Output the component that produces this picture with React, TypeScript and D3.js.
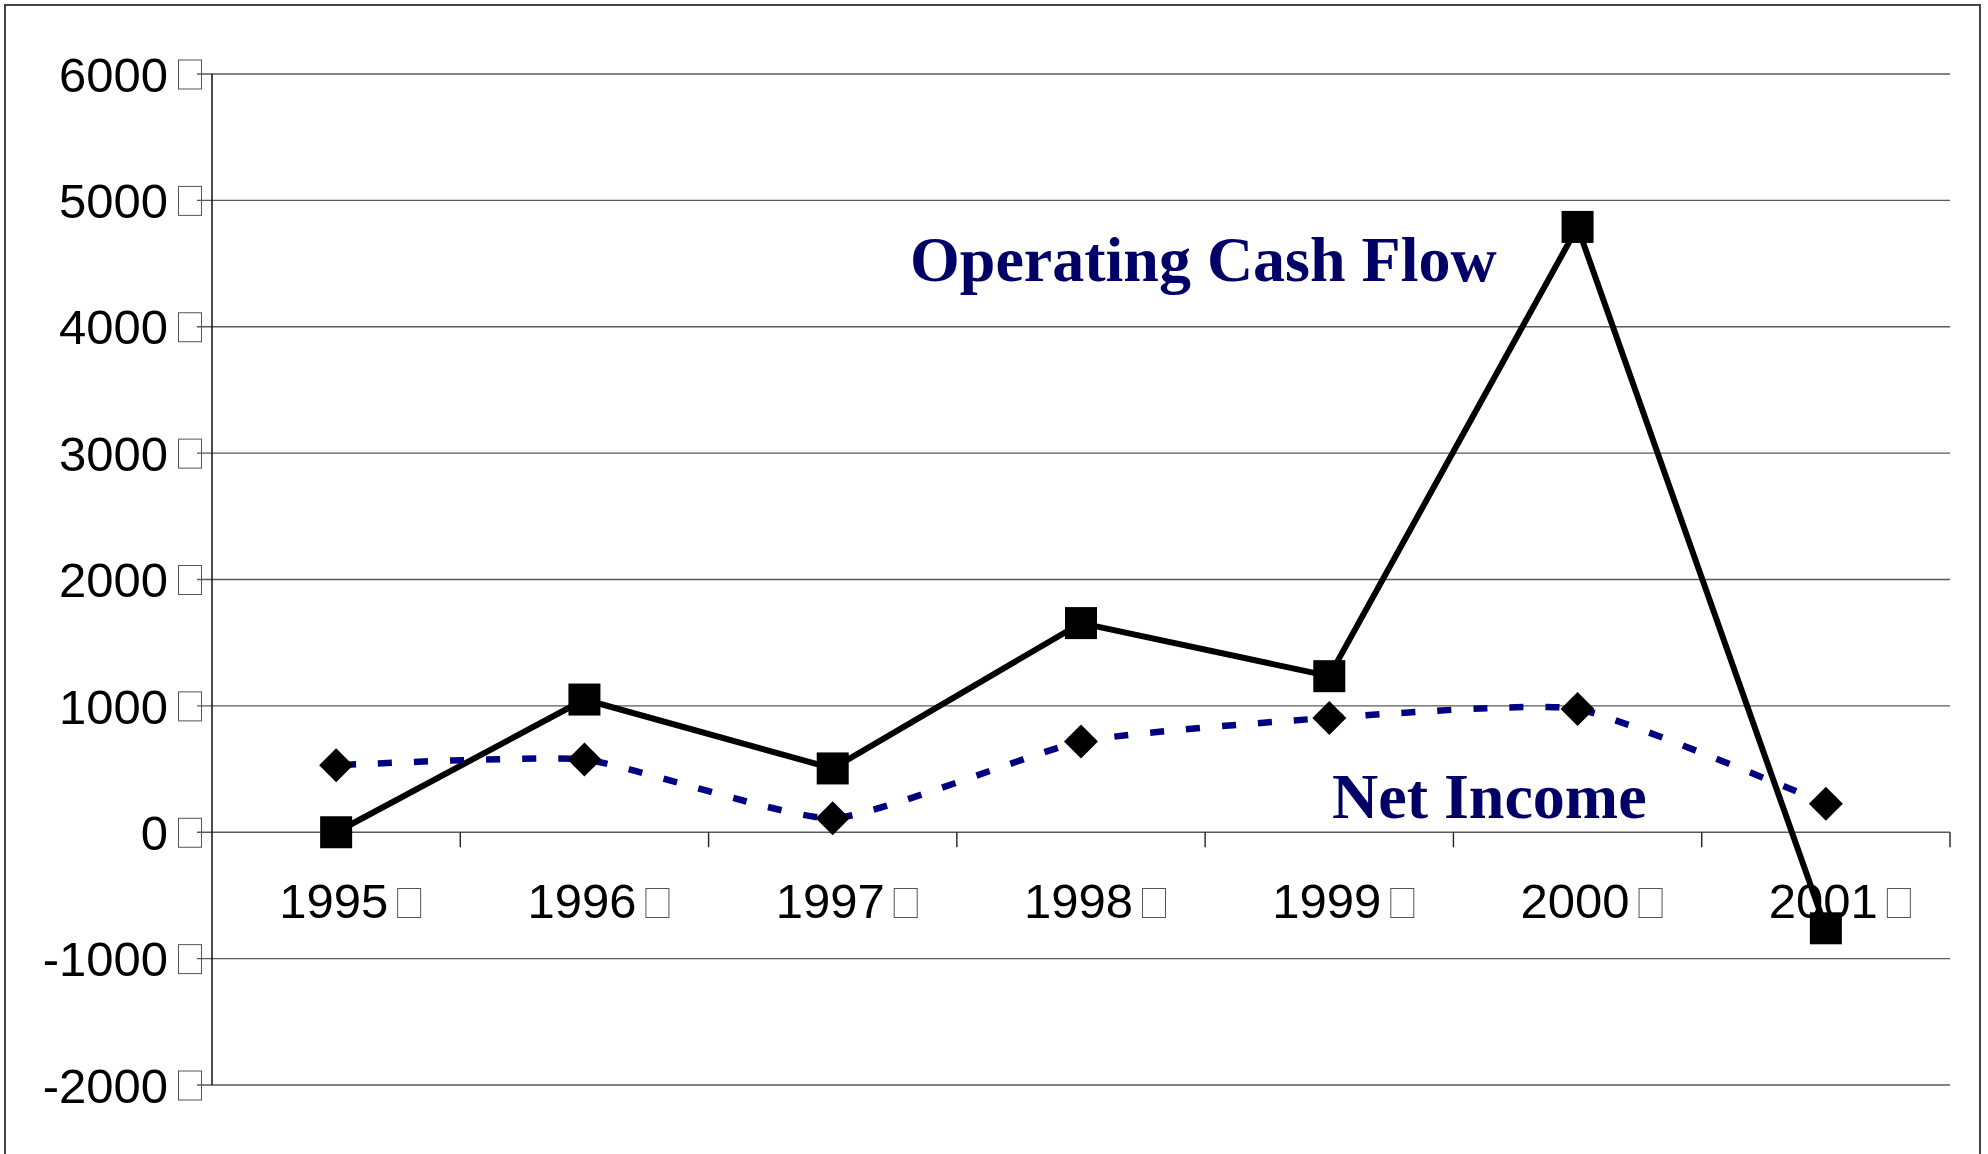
import React from "react";
import * as d3 from "d3";

const years = ["1995", "1996", "1997", "1998", "1999", "2000", "2001"];
const operatingCashFlow = [0, 1050, 505, 1655, 1235, 4790, -760];
const netIncome = [530, 575, 110, 718, 905, 975, 225];
const yTicks = [-2000, -1000, 0, 1000, 2000, 3000, 4000, 5000, 6000];

const W = 1988;
const H = 1154;

export default function App() {
  const x = d3.scaleBand<string>().domain(years).range([212, 1950]).padding(0);
  const y = d3.scaleLinear().domain([-2000, 6000]).range([1085, 74]);
  const cx = (yr: string) => (x(yr) as number) + x.bandwidth() / 2;

  const cfLine = d3
    .line<number>()
    .x((_, i) => cx(years[i]))
    .y((d) => y(d));
  const niLine = d3
    .line<number>()
    .x((_, i) => cx(years[i]))
    .y((d) => y(d))
    .curve(d3.curveCardinal.tension(0.5));

  const sq = 32;
  const dm = 17;
  const fontSans = "'Liberation Sans', Arial, sans-serif";
  const fontSerif = "'Liberation Serif', 'Times New Roman', serif";

  return (
    <svg
      width={W}
      height={H}
      style={{ position: "absolute", left: 0, top: 0, background: "#fff" }}
    >
      <rect x={0} y={0} width={W} height={H} fill="#fff" />
      {/* outer frame */}
      <rect x={5} y={5} width={1975} height={1170} fill="none" stroke="#444" strokeWidth={2} />

      {/* gridlines and y labels */}
      {yTicks.map((t) => (
        <g key={t}>
          <line x1={197} x2={1950} y1={y(t)} y2={y(t)} stroke="#5a5a5a" strokeWidth={1.4} />
          <text
            x={168}
            y={y(t)}
            dy="0.36em"
            textAnchor="end"
            fontFamily={fontSans}
            fontSize={49}
            fill="#000"
          >
            {String(t)}
          </text>
          <rect x={178.5} y={y(t) - 14} width={23} height={29} fill="none" stroke="#555" strokeWidth={1} />
        </g>
      ))}

      {/* y axis */}
      <line x1={212} x2={212} y1={y(6000)} y2={y(-2000)} stroke="#111" strokeWidth={1.5} />

      {/* category ticks */}
      {years.map((yr) => (
        <line key={"t" + yr} x1={(x(yr) as number) + x.bandwidth()} x2={(x(yr) as number) + x.bandwidth()} y1={y(0)} y2={y(0) + 15} stroke="#222" strokeWidth={1.4} />
      ))}

      {/* x labels */}
      {years.map((yr) => (
        <g key={"l" + yr}>
          <text
            x={cx(yr) + 52}
            y={918}
            textAnchor="end"
            fontFamily={fontSans}
            fontSize={49}
            fill="#000"
          >
            {yr}
          </text>
          <rect x={cx(yr) + 61.5} y={888.5} width={23} height={29} fill="none" stroke="#555" strokeWidth={1} />
        </g>
      ))}

      {/* operating cash flow */}
      <path d={cfLine(operatingCashFlow) || ""} fill="none" stroke="#000" strokeWidth={6} strokeLinejoin="miter" />
      {/* net income */}
      <path d={niLine(netIncome) || ""} fill="none" stroke="#000080" strokeWidth={6.5} strokeDasharray="14 22" strokeDashoffset={-6} />

      {operatingCashFlow.map((v, i) => (
        <rect key={"s" + i} x={cx(years[i]) - sq / 2} y={y(v) - sq / 2} width={sq} height={sq} fill="#000" />
      ))}
      {netIncome.map((v, i) => {
        const px = cx(years[i]);
        const py = y(v);
        return (
          <path
            key={"d" + i}
            d={`M${px},${py - dm} L${px + dm},${py} L${px},${py + dm} L${px - dm},${py} Z`}
            fill="#000"
          />
        );
      })}

      {/* annotations */}
      <text x={910} y={281} fontFamily={fontSerif} fontWeight="bold" fontSize={64} fill="#000066">
        Operating Cash Flow
      </text>
      <text x={1332} y={818} fontFamily={fontSerif} fontWeight="bold" fontSize={64} fill="#000066">
        Net Income
      </text>
    </svg>
  );
}
